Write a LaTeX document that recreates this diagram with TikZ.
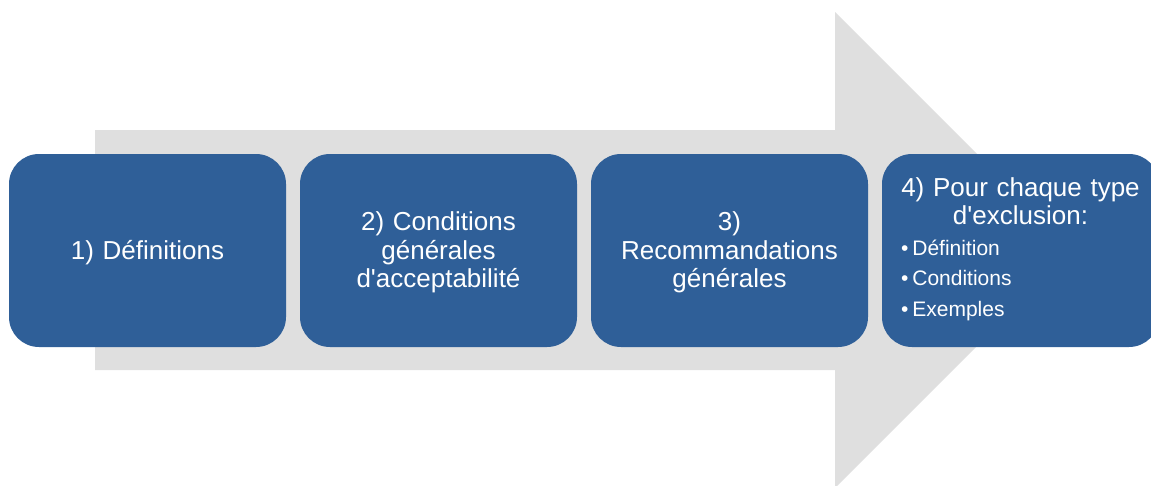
\documentclass[tikz,border=0pt]{standalone}
\usepackage{fontspec}
\setmainfont{Liberation Sans}
\usepackage{xcolor}
\usetikzlibrary{positioning}
\definecolor{stepblue}{HTML}{2F5F98}
\definecolor{arrowgray}{HTML}{DFDFDF}

\begin{document}
\begin{tikzpicture}[x=1pt, y=-1pt,
  box/.style={fill=stepblue, rounded corners=30pt, minimum width=277pt, minimum height=193pt,
    inner xsep=19pt, outer sep=0pt, text width=239pt, align=center, text=white,
    font=\fontsize{26}{28.5}\selectfont},
  lowbox/.style={box, execute at end node={\endgraf\vspace*{-4pt}}}]
\useasboundingbox (0,0) rectangle (1151,485);
\fill[arrowgray] (95,130) -- (835,130) -- (835,12) -- (1073,250) -- (835,488) -- (835,370) -- (95,370) -- cycle;

\node[lowbox] (b1) at (147.5,250.5) {1) Définitions};
\node[lowbox, right=14pt of b1] (b2) {2) Conditions\\générales\\d\textquotesingle acceptabilité};
\node[lowbox, right=14pt of b2] (b3) {3)\\Recommandations\\générales};
\node[box, right=14pt of b3, align=left] (b4) {%
  {\centering 4) Pour chaque type\\d\textquotesingle exclusion:\par}%
  \vspace{0pt}%
  {\raggedright\fontsize{21}{30.5}\selectfont
  \textbullet\hspace{4pt}Définition\\
  \textbullet\hspace{4pt}Conditions\\
  \textbullet\hspace{4pt}Exemples\par}%
  \vspace{3pt}};

\end{tikzpicture}
\end{document}
